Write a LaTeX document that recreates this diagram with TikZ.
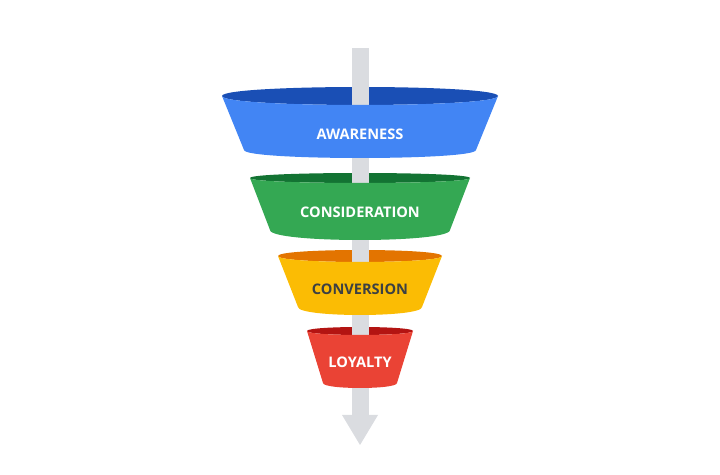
\documentclass[tikz,border=0pt]{standalone}
\usepackage{fontspec}
\setmainfont{Open Sans}
\usetikzlibrary{positioning,calc}

\definecolor{shaftgray}{HTML}{DADCE0}
\definecolor{blueA}{HTML}{4285F4}
\definecolor{blueB}{HTML}{1A4FB5}
\definecolor{greenA}{HTML}{34A853}
\definecolor{greenB}{HTML}{137333}
\definecolor{yellowA}{HTML}{FBBC04}
\definecolor{yellowB}{HTML}{E37400}
\definecolor{redA}{HTML}{EA4335}
\definecolor{redB}{HTML}{B31412}
\definecolor{darktext}{HTML}{3C4043}

% #1 top y, #2 top half width, #3 rim half height, #4 bottom y, #5 bottom half width, #6 sag, #7 colour
\newcommand{\funnelrim}[4]{%
  \fill[#4] (360-#2,#1) .. controls (360-#2,#1-1.333*#3) and (360+#2,#1-1.333*#3) .. (360+#2,#1)
    .. controls (360+#2,#1+1.333*#3) and (360-#2,#1+1.333*#3) .. cycle;}
\newcommand{\funnelbody}[7]{%
  \fill[#7] (360-#2,#1) .. controls (360-#2,#1+1.333*#3) and (360+#2,#1+1.333*#3) .. (360+#2,#1)
    -- (360+#5,#4) .. controls (360+#5,#4+1.333*#6) and (360-#5,#4+1.333*#6) .. (360-#5,#4) -- cycle;}

\begin{document}
\begin{tikzpicture}[x=0.02cm,y=-0.02cm,
    stage/.style={font=\bfseries\fontsize{8.3}{10}\selectfont, text=white},
    ]
\useasboundingbox (0,0) rectangle (720,475);

% inner rims
\funnelrim{96}{138}{9}{blueB}
\funnelrim{178}{110}{5}{greenB}
\funnelrim{256}{82}{6}{yellowB}
\funnelrim{331}{53}{4}{redB}

% arrow through the funnel
\coordinate (shafttop) at (360,48);
\coordinate (headbase) at (360,415);
\coordinate (tip) at (360,445);
\fill[shaftgray] ($(shafttop)+(-8.5,0)$) rectangle ($(headbase)+(8.5,0)$);
\fill[shaftgray] ($(headbase)+(-18,0)$) -- ($(headbase)+(18,0)$) -- (tip) -- cycle;

% bodies
\funnelbody{96}{138}{9}{150}{116}{8}{blueA}
\funnelbody{178}{110}{5}{230}{90}{10}{greenA}
\funnelbody{256}{82}{6}{307}{62}{8}{yellowA}
\funnelbody{331}{53}{4}{383}{37}{5}{redA}

\node[stage] (awareness) at (360,134) {AWARENESS};
\node[stage] (consideration) at (360,212) {CONSIDERATION};
\node[stage, text=darktext] (conversion) at (360,289) {CONVERSION};
\node[stage] (loyalty) at (360,362) {LOYALTY};

\end{tikzpicture}
\end{document}
